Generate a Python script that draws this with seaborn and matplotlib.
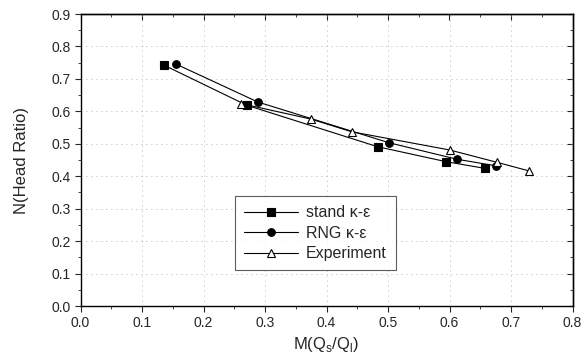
import numpy as np
import pandas as pd
import matplotlib
matplotlib.use("Agg")
import matplotlib.pyplot as plt
import seaborn as sns

# data
stand_x = [0.135, 0.270, 0.483, 0.594, 0.658]
stand_y = [0.743, 0.619, 0.491, 0.445, 0.424]
rng_x = [0.156, 0.288, 0.502, 0.613, 0.676]
rng_y = [0.745, 0.629, 0.503, 0.452, 0.432]
exp_x = [0.261, 0.375, 0.441, 0.600, 0.677, 0.730]
exp_y = [0.624, 0.576, 0.537, 0.481, 0.443, 0.416]

labels = ["stand \u03ba-\u03b5", "RNG \u03ba-\u03b5", "Experiment"]
x_ticks = [0.0, 0.1, 0.2, 0.3, 0.4, 0.5, 0.6, 0.7, 0.8]
y_ticks = [0.0, 0.1, 0.2, 0.3, 0.4, 0.5, 0.6, 0.7, 0.8, 0.9]

sns.set_style("ticks")
plt.rcParams['font.family'] = ['Liberation Sans', 'DejaVu Sans']

fig = plt.figure(figsize=(5.84, 3.61), dpi=100)
ax = fig.add_axes([80.5 / 584, 1 - 306 / 361, 492 / 584, 292 / 361])

series = [
    (stand_x, stand_y, labels[0], "s", "black"),
    (rng_x, rng_y, labels[1], "o", "black"),
    (exp_x, exp_y, labels[2], "^", "white"),
]
for xs, ys, lab, mk, fc in series:
    df = pd.DataFrame({"x": xs, "y": ys})
    sns.lineplot(data=df, x="x", y="y", ax=ax, sort=False, color="black",
                 linewidth=0.8, marker=mk, markersize=5.5,
                 markerfacecolor=fc, markeredgecolor="black",
                 markeredgewidth=0.8, label=lab)

ax.set_xlim(0.0, 0.8)
ax.set_ylim(0.0, 0.9)
ax.set_xticks(x_ticks)
ax.set_yticks(y_ticks)
ax.set_xticklabels([f"{v:.1f}" for v in x_ticks], fontsize=10)
ax.set_yticklabels([f"{v:.1f}" for v in y_ticks], fontsize=10)
ax.set_xticks(np.arange(0.05, 0.8, 0.1), minor=True)
ax.set_yticks(np.arange(0.05, 0.9, 0.1), minor=True)
ax.tick_params(which="major", direction="out", length=4, width=0.8, pad=3)
ax.tick_params(which="minor", direction="out", length=2, width=0.6)
ax.grid(True, which="major", linestyle=(0, (1, 5)), color="#999999", linewidth=0.6)

# inward ticks on the top and right frame
top = ax.secondary_xaxis("top")
top.set_xticks(x_ticks)
top.set_xticks(np.arange(0.05, 0.8, 0.1), minor=True)
top.tick_params(which="both", direction="in", labeltop=False)
top.tick_params(which="major", length=4, width=0.8)
top.tick_params(which="minor", length=2, width=0.6)
right = ax.secondary_yaxis("right")
right.set_yticks(y_ticks)
right.set_yticks(np.arange(0.05, 0.9, 0.1), minor=True)
right.tick_params(which="both", direction="in", labelright=False)
right.tick_params(which="major", length=4, width=0.8)
right.tick_params(which="minor", length=2, width=0.6)

for s in ax.spines.values():
    s.set_linewidth(1.0)
    s.set_color("black")
top.spines["top"].set_linewidth(1.0)
right.spines["right"].set_linewidth(1.0)

ax.set_xlabel(r"M(Q$_\mathregular{s}$/Q$_\mathregular{l}$)", fontsize=12)
ax.xaxis.set_label_coords(0.5, -0.1)
ax.set_ylabel("N(Head Ratio)", fontsize=12)
ax.yaxis.set_label_coords(-0.105, 0.5)

leg = ax.legend(loc="lower left", bbox_to_anchor=(0.314, 0.123), fontsize=11.5,
                frameon=True, fancybox=False, edgecolor="#333333",
                handlelength=3.4, handletextpad=0.5, borderpad=0.55,
                labelspacing=0.35, borderaxespad=0)
leg.get_frame().set_linewidth(0.8)

fig.savefig("out.png", dpi=100)
